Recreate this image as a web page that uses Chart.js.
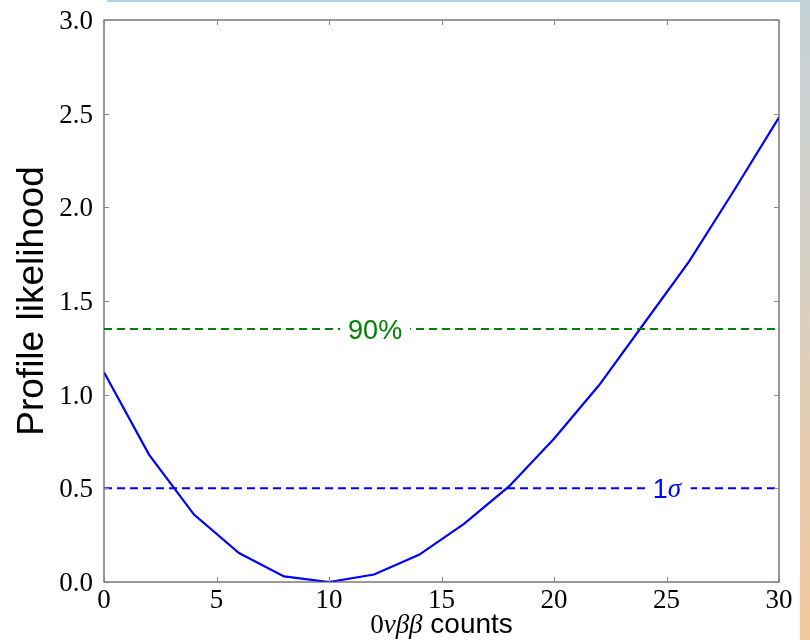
<!DOCTYPE html>
<html lang="en">
<head>
    <meta charset="UTF-8">
    <title>Profile likelihood</title>
    <script src="https://cdn.jsdelivr.net/npm/chart.js@4/dist/chart.umd.min.js"></script>
    <style>
        html, body { margin: 0; padding: 0; background: #fff; }
        #wrap { position: relative; width: 810px; height: 640px; overflow: hidden; }
        #topline { position: absolute; left: 107px; top: 0; width: 693px; height: 2px; background: #a9d3ee; }
        #edge { position: absolute; left: 800px; top: 0; width: 10px; height: 640px;
                background: linear-gradient(#c3d1d8, #d9d0c2 45%, #f6c89a); }
        #canvas { position: absolute; left: 0; top: 0; }
    </style>
</head>
<body>
<div id="wrap">
    <div id="topline"></div>
    <div id="edge"></div>
    <canvas id="canvas" width="810" height="640"></canvas>
</div>
<script>
    // counts on the x axis and the profile likelihood
    var COUNTS = [0, 2, 4, 6, 8, 10, 12, 14, 16, 18, 20, 22, 24, 26, 28, 30];
    var LIKELIHOOD = [1.12, 0.68, 0.36, 0.155, 0.03, 0.0, 0.04, 0.145, 0.31, 0.51, 0.765, 1.05, 1.38, 1.71, 2.09, 2.48];
    // confidence levels
    var LEVEL_90 = 1.35;
    var LEVEL_1S = 0.5;
    var X_TICKS = [0, 5, 10, 15, 20, 25, 30];
    var Y_TICKS = [0.0, 0.5, 1.0, 1.5, 2.0, 2.5, 3.0];

    var curve = COUNTS.map(function(c, i) { return { x: c, y: LIKELIHOOD[i] }; });
    function flat(v) { return [{ x: 0, y: v }, { x: 30, y: v }]; }

    var SERIF = '"Liberation Serif", "DejaVu Serif", serif';
    var SANS = '"Liberation Sans", Arial, sans-serif';

    // matplotlib-like inward ticks, level labels and axis titles
    var decor = {
        id: 'decor',
        afterDatasetsDraw: function(chart) {
            var ctx = chart.ctx, a = chart.chartArea;
            var xs = chart.scales.x, ys = chart.scales.y;
            ctx.save();

            // 90% label, with a white gap in the dashed line
            var px = xs.getPixelForValue(12.05), py = ys.getPixelForValue(LEVEL_90);
            ctx.fillStyle = '#fff';
            ctx.fillRect(px - 35, py - 8, 70, 16);
            ctx.font = '27px ' + SANS;
            ctx.fillStyle = '#008000';
            ctx.textAlign = 'center';
            ctx.textBaseline = 'middle';
            ctx.fillText('90%', px, py + 2);

            // 1 sigma label
            px = xs.getPixelForValue(25.1); py = ys.getPixelForValue(LEVEL_1S);
            ctx.fillStyle = '#fff';
            ctx.fillRect(px - 20, py - 8, 42, 16);
            ctx.fillStyle = '#0000ff';
            ctx.textAlign = 'right';
            ctx.fillText('1', px - 1, py + 2);
            ctx.font = 'italic 27px ' + SERIF;
            ctx.textAlign = 'left';
            ctx.fillText('\u03c3', px - 1, py + 2);

            // frame
            ctx.strokeStyle = '#555';
            ctx.lineWidth = 1.2;
            ctx.strokeRect(a.left, a.top, a.right - a.left, a.bottom - a.top);

            // ticks
            ctx.strokeStyle = '#888';
            ctx.lineWidth = 1;
            ctx.beginPath();
            X_TICKS.forEach(function(t) {
                var x = Math.round(xs.getPixelForValue(t)) + 0.5;
                ctx.moveTo(x, a.bottom); ctx.lineTo(x, a.bottom - 5);
                ctx.moveTo(x, a.top); ctx.lineTo(x, a.top + 5);
            });
            Y_TICKS.forEach(function(t) {
                var y = Math.round(ys.getPixelForValue(t)) + 0.5;
                ctx.moveTo(a.left, y); ctx.lineTo(a.left + 5, y);
                ctx.moveTo(a.right, y); ctx.lineTo(a.right - 5, y);
            });
            ctx.stroke();

            // tick labels
            ctx.fillStyle = '#000';
            ctx.font = '27px ' + SERIF;
            ctx.textAlign = 'center';
            ctx.textBaseline = 'alphabetic';
            X_TICKS.forEach(function(t) {
                ctx.fillText(String(t), xs.getPixelForValue(t), a.bottom + 26);
            });
            ctx.textAlign = 'right';
            Y_TICKS.forEach(function(t) {
                ctx.fillText(t.toFixed(1), a.left - 11, ys.getPixelForValue(t) + 9);
            });

            // y title
            ctx.save();
            ctx.translate(33, (a.top + a.bottom) / 2);
            ctx.rotate(-Math.PI / 2);
            ctx.font = '37px ' + SANS;
            ctx.textAlign = 'center';
            ctx.textBaseline = 'middle';
            ctx.fillText('Profile likelihood', 0, 0);
            ctx.restore();

            // x title: italic math part + sans word
            ctx.textBaseline = 'alphabetic';
            ctx.textAlign = 'left';
            var part1 = '0', part2 = '\u03bd\u03b2\u03b2', part3 = ' counts';
            ctx.font = '27px ' + SERIF; var w1 = ctx.measureText(part1).width;
            ctx.font = 'italic 27px ' + SERIF; var w2 = ctx.measureText(part2).width;
            ctx.font = '28px ' + SANS; var w3 = ctx.measureText(part3).width;
            var x0 = (a.left + a.right) / 2 - (w1 + w2 + w3) / 2, yb = 633;
            ctx.font = '27px ' + SERIF; ctx.fillText(part1, x0, yb);
            ctx.font = 'italic 27px ' + SERIF; ctx.fillText(part2, x0 + w1, yb);
            ctx.font = '28px ' + SANS; ctx.fillText(part3, x0 + w1 + w2, yb);

            ctx.restore();
        }
    };

    window.onload = function() {
        var ctx = document.getElementById('canvas').getContext('2d');
        window.myChart = new Chart(ctx, {
            type: 'line',
            data: {
                datasets: [{
                    label: '90%',
                    data: flat(LEVEL_90),
                    borderColor: '#008000',
                    borderWidth: 2,
                    borderDash: [8, 5],
                    pointRadius: 0
                }, {
                    label: '1 sigma',
                    data: flat(LEVEL_1S),
                    borderColor: '#0000ff',
                    borderWidth: 2,
                    borderDash: [8, 5],
                    pointRadius: 0
                }, {
                    label: 'profile',
                    data: curve,
                    borderColor: '#0000ff',
                    borderWidth: 2.2,
                    pointRadius: 0,
                    tension: 0
                }]
            },
            options: {
                responsive: false,
                animation: false,
                layout: { padding: { left: 0, right: 31, top: 20, bottom: 0 } },
                plugins: { legend: { display: false }, tooltip: { enabled: false } },
                scales: {
                    x: {
                        type: 'linear', min: 0, max: 30,
                        grid: { display: false },
                        border: { display: false },
                        ticks: { display: false },
                        afterFit: function(s) { s.height = 58; }
                    },
                    y: {
                        min: 0, max: 3,
                        grid: { display: false },
                        border: { display: false },
                        ticks: { display: false },
                        afterFit: function(s) { s.width = 104; }
                    }
                }
            },
            plugins: [decor]
        });
    };
</script>
</body>
</html>
